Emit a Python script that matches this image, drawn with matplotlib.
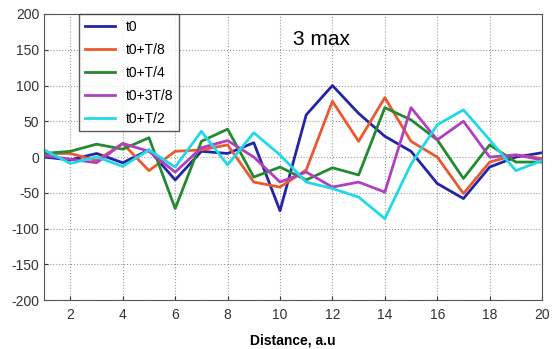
import numpy as np
import matplotlib.pyplot as plt

x = np.arange(1, 21)
t0 = [0, -4, 5, -8, 10, -32, 8, 5, 20, -75, 59, 100, 61, 29, 8, -37, -58, -14, 0, 6]
t0_T8 = [5, 5, -5, 19, -19, 8, 10, 17, -35, -42, -18, 78, 22, 83, 22, 0, -51, -7, 3, -2]
t0_T4 = [5, 8, 18, 11, 27, -72, 22, 39, -28, -14, -32, -15, -25, 69, 52, 24, -30, 17, -7, -7]
t0_3T8 = [2, -3, -8, 19, 8, -21, 13, 23, 0, -35, -21, -42, -35, -49, 69, 24, 50, 0, 3, -4]
t0_T2 = [10, -9, 0, -13, 10, -14, 36, -11, 34, 3, -35, -44, -56, -86, -10, 45, 66, 24, -19, -5]

labels = ['t0', 't0+T/8', 't0+T/4', 't0+3T/8', 't0+T/2']
colors = ['#2424a8', '#e85a30', '#238a30', '#b040c0', '#22d8e8']

plt.rcParams['font.family'] = ['Liberation Sans', 'DejaVu Sans']
plt.rcParams['axes.unicode_minus'] = False
fig = plt.figure(figsize=(5.52, 3.49), dpi=100)
ax = fig.add_axes([0.08, 0.14, 0.902, 0.82])

for y, lab, c in zip([t0, t0_T8, t0_T4, t0_3T8, t0_T2], labels, colors):
    ax.plot(x, y, color=c, lw=2, label=lab)

ax.set_xlim(1, 20)
ax.set_ylim(-200, 200)
ax.set_xticks(range(2, 21, 2))
ax.set_yticks(range(-200, 201, 50))
ax.grid(True, ls=':', color='#999999', lw=0.8)
ax.tick_params(direction='in', labelsize=10, colors='#333333', length=3)
ax.tick_params(axis='x', pad=6)
for s in ax.spines.values():
    s.set_color('#555555')

ax.set_xlabel('Distance, a.u', fontsize=10, fontweight='bold', labelpad=8)
ax.text(11.6, 165, '3 max', fontsize=15, ha='center', va='center')

leg = ax.legend(loc='upper left', bbox_to_anchor=(0.07, 1.0), fontsize=10,
                frameon=True, fancybox=False, handlelength=2.2, borderaxespad=0,
                labelspacing=0.65)
leg.get_frame().set_edgecolor('#333333')
leg.get_frame().set_linewidth(1)

fig.savefig('out.png', dpi=100)
